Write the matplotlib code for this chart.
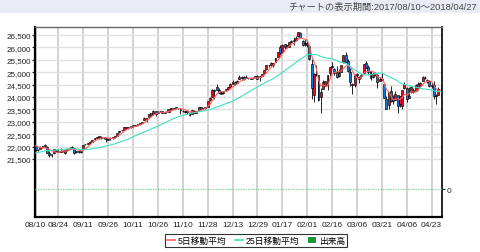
import numpy as np
import pandas as pd
import matplotlib
matplotlib.use('Agg')
import matplotlib.pyplot as plt
from matplotlib.lines import Line2D
from matplotlib.patches import Patch

plt.rcParams['font.family'] = ['Liberation Sans', 'Noto Sans CJK JP', 'DejaVu Sans']

# trading days shown on the chart
trading_days = [
    ('08', [10, 11, 14, 15, 16, 17, 18, 21, 22, 23, 24, 25, 28, 29, 30, 31]),
    ('09', [1, 5, 6, 7, 8, 11, 12, 13, 14, 15, 18, 19, 20, 21, 22, 25, 26, 27, 28, 29]),
    ('10', [2, 3, 4, 5, 6, 9, 10, 11, 12, 13, 16, 17, 18, 19, 20, 23, 24, 25, 26, 27, 30, 31]),
    ('11', [1, 2, 3, 6, 7, 8, 9, 10, 13, 14, 15, 16, 17, 20, 21, 22, 24, 27, 28, 29, 30]),
    ('12', [1, 4, 5, 6, 7, 8, 11, 12, 13, 14, 15, 18, 19, 20, 21, 22, 26, 27, 28, 29]),
    ('01', [2, 3, 4, 5, 8, 9, 10, 11, 12, 16, 17, 18, 19, 22, 23, 24, 25, 26, 29, 30, 31]),
    ('02', [1, 2, 5, 6, 7, 8, 9, 12, 13, 14, 15, 16, 20, 21, 22, 23, 26, 27, 28]),
    ('03', [1, 2, 5, 6, 7, 8, 9, 12, 13, 14, 15, 16, 19, 20, 21, 22, 23, 26, 27, 28, 29]),
    ('04', [2, 3, 4, 5, 6, 9, 10, 11, 12, 13, 16, 17, 18, 19, 20, 23, 24, 25, 26, 27]),
]
dates = [f'{m}/{d:02d}' for m, days in trading_days for d in days]

tick_labels = ['08/10', '08/24', '09/11', '09/26', '10/11', '10/26', '11/10', '11/28',
               '12/13', '12/29', '01/17', '02/01', '02/16', '03/06', '03/21', '04/06', '04/23']

# closes before the period (for the moving averages)
pre_close = [21414, 21409, 21409, 21533, 21554, 21638, 21630, 21575, 21641, 21612, 21580, 21513,
             21613, 21711, 21797, 21830, 21891, 21964, 22016, 22026, 22092, 22118, 22085, 22049]

opens = [
    22030, 21860, 21900, 22010, 22020, 22000, 21740, 21680, 21730, 21860, 21840, 21800, 21830, 21740, 21860, 21910,
    21960, 21950, 21770, 21820, 21780, 21900, 22090, 22110, 22150, 22200, 22290, 22340, 22370, 22400, 22340, 22330,
    22310, 22330, 22330, 22390,
    22420, 22570, 22650, 22680, 22760, 22770, 22790, 22830, 22860, 22870, 22900, 22960, 23080, 23110, 23210, 23340,
    23300, 23420, 23350, 23420, 23420, 23370,
    23420, 23410, 23520, 23530, 23560, 23550, 23520, 23440, 23410, 23400, 23370, 23330, 23450, 23370, 23460, 23590,
    23540, 23560, 23600, 23860, 24000,
    24290, 24400, 24300, 24180, 24150, 24270, 24340, 24420, 24540, 24620, 24580, 24720, 24810, 24800, 24770, 24770,
    24730, 24760, 24800, 24850,
    24810, 24850, 24960, 25110, 25310, 25310, 25300, 25400, 25610, 26000, 25820, 26120, 26060, 26030, 26250, 26300,
    26300, 26460, 26580, 26270, 26150,
    26080, 26060, 25340, 24090, 24900, 24880, 23990, 24330, 24460, 24500, 24980, 25230, 25120, 24990, 24840, 25010,
    25400, 25710, 25440,
    25020, 24500, 24500, 24920, 24720, 24850, 24980, 25360, 25230, 25050, 24800, 24890, 24900, 24640, 24720, 24530,
    23930, 23690, 24250, 23840, 23880,
    24080, 23720, 23630, 24360, 24360, 24050, 24200, 24290, 24260, 24540, 24460, 24660, 24780, 24700, 24640, 24480,
    24490, 24040, 24100, 24330,
]
highs = [
    22040, 21920, 22010, 22030, 22085, 22010, 21810, 21720, 21910, 21880, 21890, 21930, 21860, 21870, 21910, 21980,
    22010, 21960, 21840, 21840, 21820, 22060, 22120, 22160, 22210, 22270, 22350, 22380, 22420, 22410, 22360, 22340,
    22340, 22370, 22385, 22410,
    22560, 22640, 22670, 22780, 22780, 22790, 22840, 22880, 22890, 22900, 22960, 23000, 23180, 23170, 23330, 23370,
    23470, 23430, 23440, 23450, 23430, 23400,
    23520, 23530, 23560, 23570, 23600, 23570, 23530, 23460, 23450, 23420, 23380, 23480, 23460, 23440, 23600, 23600,
    23570, 23610, 23840, 23980, 24330,
    24330, 24530, 24350, 24230, 24240, 24330, 24390, 24550, 24670, 24660, 24690, 24880, 24830, 24850, 24870, 24780,
    24770, 24800, 24840, 24870,
    24830, 24940, 25100, 25300, 25310, 25400, 25380, 25580, 25810, 26090, 26150, 26150, 26080, 26220, 26300, 26400,
    26460, 26620, 26610, 26300, 26340,
    26300, 26080, 25520, 24950, 25300, 24900, 24380, 24680, 24650, 24900, 25200, 25430, 25160, 25270, 25130, 25310,
    25710, 25800, 25540,
    25150, 24580, 24930, 24960, 24840, 24910, 25340, 25450, 25300, 25060, 24990, 25000, 24920, 24790, 24970, 24530,
    24050, 24210, 24460, 24100, 24230,
    24100, 24050, 24300, 24620, 24390, 24420, 24460, 24370, 24530, 24620, 24620, 24860, 24860, 24720, 24690, 24580,
    24640, 24110, 24400, 24390,
]
lows = [
    21840, 21820, 21890, 21950, 21990, 21750, 21600, 21600, 21720, 21780, 21770, 21800, 21770, 21700, 21840, 21900,
    21940, 21700, 21740, 21730, 21750, 21890, 22050, 22100, 22130, 22170, 22280, 22320, 22300, 22320, 22300, 22200,
    22270, 22280, 22300, 22360,
    22410, 22560, 22610, 22670, 22720, 22720, 22770, 22800, 22820, 22850, 22890, 22940, 23070, 23000, 23200, 23260,
    23280, 23250, 23340, 23380, 23340, 23350,
    23410, 23380, 23500, 23510, 23510, 23510, 23320, 23380, 23350, 23330, 23240, 23320, 23350, 23350, 23450, 23520,
    23530, 23530, 23600, 23830, 23990,
    23920, 24270, 24170, 24110, 24130, 24240, 24310, 24410, 24530, 24500, 24570, 24710, 24730, 24700, 24760, 24720,
    24710, 24740, 24780, 24710,
    24660, 24830, 24950, 25100, 25200, 25260, 25200, 25400, 25600, 25700, 25800, 25930, 25970, 26000, 26160, 26100,
    26270, 26420, 26420, 26040, 26050,
    26000, 25490, 23920, 23780, 24850, 23850, 23360, 24330, 24460, 24300, 24860, 25150, 24870, 24780, 24800, 25010,
    25390, 25400, 25020,
    24460, 24120, 24400, 24800, 24560, 24750, 24970, 25150, 24900, 24690, 24750, 24860, 24380, 24630, 24680, 23940,
    23510, 23510, 23780, 23700, 23860,
    23340, 23610, 23510, 24320, 23800, 23960, 24170, 24170, 24250, 24290, 24450, 24660, 24720, 24580, 24410, 24370,
    23920, 23720, 24090, 24240,
]
closes = [
    21844, 21858, 21994, 21999, 22025, 21751, 21675, 21704, 21900, 21812, 21783, 21814, 21808, 21865, 21892, 21948,
    21988, 21753, 21808, 21785, 21798, 22057, 22119, 22158, 22203, 22268, 22331, 22371, 22413, 22359, 22350, 22296,
    22284, 22341, 22381, 22405,
    22558, 22642, 22662, 22775, 22774, 22761, 22831, 22873, 22841, 22872, 22957, 22997, 23158, 23163, 23329, 23274,
    23442, 23329, 23401, 23434, 23349, 23377,
    23435, 23516, 23539, 23548, 23557, 23563, 23462, 23422, 23440, 23409, 23271, 23458, 23358, 23430, 23591, 23526,
    23558, 23581, 23837, 23941, 24272,
    24232, 24290, 24181, 24141, 24211, 24329, 24386, 24505, 24585, 24509, 24652, 24792, 24755, 24727, 24782, 24754,
    24746, 24774, 24838, 24719,
    24824, 24923, 25075, 25296, 25283, 25386, 25369, 25575, 25803, 25793, 26116, 26018, 26072, 26215, 26211, 26252,
    26393, 26617, 26439, 26077, 26149,
    26187, 25521, 24346, 24913, 24893, 23860, 24191, 24601, 24640, 24893, 25200, 25219, 24965, 24798, 24962, 25310,
    25709, 25410, 25029,
    24609, 24538, 24875, 24884, 24801, 24895, 25336, 25179, 25007, 24758, 24874, 24947, 24611, 24727, 24682, 23958,
    23533, 24203, 23858, 23848, 24103,
    23644, 24033, 24264, 24505, 23933, 23979, 24408, 24189, 24483, 24360, 24573, 24787, 24748, 24665, 24463, 24449,
    24024, 24084, 24322, 24311,
]

df = pd.DataFrame({'date': dates, 'open': opens, 'high': highs, 'low': lows, 'close': closes})
all_close = pd.Series(pre_close + closes)
df['ma5'] = all_close.rolling(5).mean().iloc[len(pre_close):].values
df['ma25'] = all_close.rolling(25).mean().iloc[len(pre_close):].values
x = np.arange(len(df))

fig = plt.figure(figsize=(4.8, 2.53), dpi=100)
fig.patch.set_facecolor('white')

# header band
fig.patches.append(plt.Rectangle((0, 1 - 14 / 253), 1, 14 / 253, transform=fig.transFigure,
                                 facecolor='#e9ebf5', edgecolor='none'))
fig.text(0.994, 1 - 7 / 253, 'チャートの表示期間:2017/08/10～2018/04/27', ha='right', va='center',
         fontsize=6.7, color='#444444')

ax = fig.add_axes([35 / 480, 1 - 218 / 253, 407 / 480, 190 / 253])
ax.set_xlim(-0.3, 179.6)
ax.set_ylim(19161, 26823)

# grid
ticks_x = [dates.index(t) for t in tick_labels]
for t in ticks_x:
    ax.axvline(t, color='#cfcfcf', lw=1.3, zorder=0)
for yv in range(21500, 27000, 500):
    ax.axhline(yv, color='#e0e0e0', lw=1.0, zorder=0)

# candles
up = df['close'] >= df['open']
ax.vlines(x, df['low'], df['high'], color='black', lw=0.6, zorder=2)
body_bottom = np.minimum(df['open'], df['close'])
body_h = np.maximum(np.abs(df['close'] - df['open']), 25)
ax.bar(x, body_h, bottom=body_bottom, width=0.85,
       color=np.where(up, '#e8101c', '#1478dc'), edgecolor='black', linewidth=0.45, zorder=3)

ax.plot(x, df['ma5'], color='#ff6060', lw=0.8, zorder=4)
ax.plot(x, df['ma25'], color='#40e0c0', lw=0.8, zorder=4)

ax.set_xticks(ticks_x)
ax.set_xticklabels(tick_labels)
ax.set_yticks(range(21500, 27000, 500))
ax.set_yticklabels([f'{v:,}' for v in range(21500, 27000, 500)])
ax.tick_params(axis='x', length=0, pad=3, labelsize=6.0, colors='#222222')
ax.tick_params(axis='y', length=2.5, width=0.8, pad=0.5, labelsize=5.8, colors='#222222')

for side in ['left', 'bottom']:
    ax.spines[side].set_linewidth(1.6)
    ax.spines[side].set_color('black')
ax.spines['top'].set_color('#666666')
ax.spines['top'].set_linewidth(1.0)
ax.spines['right'].set_color('black')
ax.spines['right'].set_linewidth(1.2)

# volume axis (no volume data)
ax2 = ax.twinx()
ax2.set_ylim(-0.1727, 1)
ax2.axhline(0, color='#7ccf95', lw=0.9, ls=(0, (1, 1)))
ax2.set_yticks([0])
ax2.set_yticklabels(['0'])
ax2.tick_params(axis='y', length=2.5, width=0.8, pad=0.5, labelsize=6.0, colors='#222222')
for s in ax2.spines.values():
    s.set_visible(False)

handles = [Line2D([], [], color='#ff6060', lw=1.2),
           Line2D([], [], color='#40e0c0', lw=1.2),
           Patch(facecolor='#1a9a3a', edgecolor='none')]
leg = fig.legend(handles, ['5日移動平均', '25日移動平均', '出来高'], loc='center',
                 bbox_to_anchor=(256 / 480, 1 - 241.5 / 253), ncol=3, fontsize=6.3,
                 frameon=True, fancybox=False, handlelength=0.9, handleheight=0.6,
                 handletextpad=0.35, columnspacing=1.0, borderpad=0.2)
leg.get_frame().set_edgecolor('black')
leg.get_frame().set_linewidth(0.8)

fig.savefig('out.png', dpi=100)
